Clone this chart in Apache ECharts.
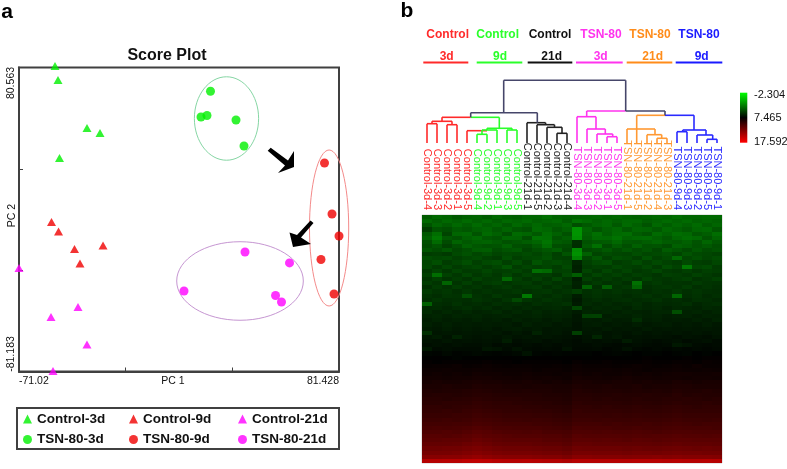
<!DOCTYPE html>
<html><head><meta charset="utf-8">
<style>html,body{margin:0;padding:0;background:#fff}#c{width:787px;height:469px}</style>
<script src="https://cdn.jsdelivr.net/npm/echarts@6/dist/echarts.min.js"></script>
</head><body><div id="c"></div>
<script>
// ---------- Panel a: PCA scores ----------
const control3d = [[-53.87,81.36],[-52.44,73.91],[-38.63,48.37],[-32.43,45.7],[-51.73,32.41]];
const control9d = [[-55.54,-1.64],[-52.2,-6.69],[-44.58,-15.97],[-31.0,-14.14],[-41.96,-23.71]];
const control21d = [[-71.02,-26.1],[-42.91,-46.86],[-55.78,-52.17],[-38.63,-66.8],[-54.82,-80.9]];
const tsn3d = [[20.21,67.9],[18.54,55.03],[15.68,54.23],[32.36,52.63],[36.17,38.8]];
const tsn9d = [[74.52,29.76],[78.09,2.62],[81.43,-9.08],[72.85,-21.6],[79.05,-39.94]];
const tsn21d = [[36.65,-17.6],[57.85,-23.4],[7.59,-38.34],[51.2,-40.74],[54.03,-44.2]];
// cx, cy, half-width, half-height (data units)
const clusterEllipses = [[27.83,53.43,15.3,22.2,'#86d6a4'],[76.71,-4.83,9.34,41.5,'#f48a8a'],[34.27,-33.03,30.16,20.9,'#c696d2']];
const pcX = [-71.02,81.428], pcY = [-81.183,80.563];
const xTicks = [-20.2,30.6];
const yTicks = [-27.27,26.65];
// ---------- Panel b: dendrogram segments [x1,h1,x2,h2] ----------
const navySegs = [[8.17,62.7,20.37,62.7],[8.17,62.7,8.17,30.3],[20.37,62.7,20.37,32],[4.87,30.3,11.53,30.3],[4.87,30.3,4.87,25.7],[11.53,30.3,11.53,20.3],[20.37,32,24.3,32],[24.3,32,24.3,27.7]];
const redSegs = [[2,25.7,4.87,25.7],[2,25.7,2,21.7],[1,21.7,3,21.7],[1,21.7,1,19.3],[3,21.7,3,18.3],[0.5,19.3,1.5,19.3],[0.5,0,0.5,19.3],[1.5,0,1.5,19.3],[2.5,18.3,3.5,18.3],[2.5,0,2.5,18.3],[3.5,0,3.5,18.3],[4.5,12.3,6.5,12.3],[4.5,0,4.5,12.3]];
const greenSegs = [[4.87,25.7,7.73,25.7],[7.73,25.7,7.73,14.7],[6.5,14.7,9,14.7],[6.5,14.7,6.5,13],[6,13,7.5,13],[9,14.7,9,13],[8.5,13,9.5,13],[8.5,0,8.5,13],[9.5,0,9.5,13],[7.5,0,7.5,13],[6,13,6,8.7],[5.5,8.7,6.5,8.7],[5.5,0,5.5,8.7],[6.5,0,6.5,8.7]];
const blackSegs = [[10.5,20.3,12.36,20.3],[10.5,0,10.5,20.3],[12.36,20.3,12.36,18.3],[11.5,18.3,13.25,18.3],[11.5,0,11.5,18.3],[13.25,18.3,13.25,15.7],[12.5,15.7,14,15.7],[12.5,0,12.5,15.7],[14,15.7,14,9.7],[13.5,9.7,14.5,9.7],[13.5,0,13.5,9.7],[14.5,0,14.5,9.7]];
const magentaSegs = [[16.47,32,20.37,32],[16.47,32,16.47,26.3],[15.5,26.3,17.4,26.3],[15.5,0,15.5,26.3],[17.4,26.3,17.4,14],[16.5,14,18.33,14],[16.5,0,16.5,14],[18.33,14,18.33,9],[17.5,9,19.07,9],[17.5,0,17.5,9],[19.07,9,19.07,6.3],[18.5,6.3,19.5,6.3],[18.5,0,18.5,6.3],[19.5,0,19.5,6.3]];
const orangeSegs = [[21.47,27.7,24.3,27.7],[21.47,27.7,21.47,0],[20.5,14,23.3,14],[20.5,0,20.5,14],[23.3,14,23.3,8.3],[22.5,8.3,23.97,8.3],[22.5,0,22.5,8.3],[23.97,8.3,23.97,4.7],[23.5,4.7,24.5,4.7],[23.5,0,23.5,4.7],[24.5,0,24.5,4.7]];
const blueSegs = [[24.3,27.7,27.2,27.7],[27.2,27.7,27.2,13],[26.07,13,28.4,13],[26.07,13,26.07,11.3],[25.5,11.3,26.5,11.3],[25.5,0,25.5,11.3],[26.5,0,26.5,11.3],[28.4,13,28.4,8],[27.5,8,29.07,8],[27.5,0,27.5,8],[29.07,8,29.07,3.7],[28.5,3.7,29.5,3.7],[28.5,0,28.5,3.7],[29.5,0,29.5,3.7]];
// ---------- Panel b: heatmap ----------
const samples = ['Control-3d-4','Control-3d-3','Control-3d-2','Control-3d-1','Control-3d-5','Control-9d-4','Control-9d-2','Control-9d-1','Control-9d-3','Control-9d-5','Control-21d-1','Control-21d-5','Control-21d-2','Control-21d-3','Control-21d-4','TSN-80-3d-4','TSN-80-3d-3','TSN-80-3d-2','TSN-80-3d-1','TSN-80-3d-5','TSN-80-21d-1','TSN-80-21d-5','TSN-80-21d-2','TSN-80-21d-4','TSN-80-21d-3','TSN-80-9d-4','TSN-80-9d-3','TSN-80-9d-2','TSN-80-9d-5','TSN-80-9d-1'];
const sampleColors = ['#ff2a2a','#ff2a2a','#ff2a2a','#ff2a2a','#ff2a2a','#2aff2a','#2aff2a','#2aff2a','#2aff2a','#2aff2a','#222222','#222222','#222222','#222222','#222222','#ff33ee','#ff33ee','#ff33ee','#ff33ee','#ff33ee','#ff9933','#ff9933','#ff9933','#ff9933','#ff9933','#2a2aff','#2a2aff','#2a2aff','#2a2aff','#2a2aff'];
const heatRows = [
[4.1,3.6,3.8,4.2,3.9,3.8,4.1,3.6,3.9,4.0,3.7,3.7,3.3,3.8,3.9,3.8,3.7,3.6,3.8,3.6,3.8,3.9,3.8,3.6,3.7,3.4,3.7,3.7,3.6,3.6],
[3.6,4.0,3.6,3.9,3.5,3.9,3.6,4.0,3.6,3.8,3.5,3.9,3.7,3.5,4.1,3.2,3.5,3.9,3.6,3.9,3.6,3.6,4.0,3.8,3.5,3.8,3.5,3.9,3.7,3.9],
[4.4,3.7,4.1,3.6,4.0,3.5,4.0,3.7,4.2,3.6,4.0,3.6,4.0,3.9,3.6,4.6,4.2,3.8,3.6,4.2,3.5,3.9,4.4,3.6,4.0,3.6,3.9,3.5,4.1,3.7],
[5.3,4.4,4.6,4.1,4.3,3.9,3.7,4.2,3.8,4.3,4.5,3.5,3.7,4.3,3.9,1.9,3.7,4.4,3.9,3.6,4.2,3.7,3.8,4.2,3.6,3.9,4.2,3.7,3.6,4.3],
[4.2,3.4,5.0,3.7,3.6,4.4,3.5,3.9,4.6,3.5,3.7,4.2,3.4,3.9,4.5,1.9,3.9,3.3,4.0,3.5,3.4,4.1,4.4,3.5,3.9,3.4,3.6,4.3,4.0,3.4],
[3.9,3.0,4.2,4.5,3.9,3.6,4.2,4.4,3.7,3.8,4.6,3.2,3.3,4.4,4.0,2.1,4.1,3.5,3.6,3.2,3.8,3.6,3.5,3.9,4.3,3.7,3.4,3.6,4.4,3.8],
[4.6,3.5,4.7,3.8,4.2,3.9,3.8,4.1,4.5,4.3,4.0,3.7,3.1,4.1,4.3,5.8,4.5,4.2,4.1,3.6,4.2,4.3,4.0,3.7,4.1,4.2,3.9,4.4,3.7,4.3],
[4.8,4.4,5.1,4.6,3.9,4.3,4.5,4.4,3.9,4.6,4.7,4.2,3.4,4.6,4.7,5.9,4.2,3.3,4.7,4.1,4.6,3.9,4.5,4.4,4.7,3.9,4.1,4.5,4.2,4.6],
[4.4,4.7,4.3,4.9,4.6,4.1,4.0,4.7,4.4,4.2,5.0,4.6,4.3,4.0,4.9,2.2,4.8,4.6,4.2,4.7,4.3,4.7,4.4,4.9,4.1,4.4,4.8,4.3,4.7,4.5],
[5.3,5.2,5.4,4.8,4.5,4.9,4.6,5.0,4.8,4.9,4.7,5.0,4.6,5.2,4.4,2.0,3.9,5.0,4.7,4.9,5.0,4.6,4.9,4.8,4.6,5.0,4.4,4.8,4.9,5.1],
[4.7,4.9,4.8,5.2,4.9,4.7,5.1,5.3,4.6,5.2,4.9,4.8,4.5,5.1,5.2,2.6,4.9,4.3,5.1,4.6,4.8,5.2,4.5,5.1,4.8,3.6,4.9,4.6,5.0,4.7],
[5.0,4.6,5.3,5.0,4.6,5.2,4.8,4.6,5.2,4.7,5.3,4.4,4.9,4.7,5.0,6.2,5.2,4.8,4.6,5.3,5.1,4.7,5.2,4.8,5.1,5.3,4.8,5.2,5.3,4.9],
[4.9,5.4,4.9,5.4,5.1,4.9,5.3,5.0,4.4,5.3,5.0,5.2,5.0,5.3,4.8,6.4,5.4,5.2,5.3,4.9,5.2,5.3,4.9,5.4,4.7,5.1,3.0,5.0,4.8,5.4],
[5.5,5.0,5.5,5.0,5.4,5.3,4.9,5.3,5.2,5.0,5.4,3.3,3.6,5.2,5.1,6.3,5.0,5.5,4.9,5.4,5.0,5.5,5.3,4.9,5.4,5.5,5.2,5.5,5.2,5.3],
[5.2,3.4,5.1,5.5,5.0,5.5,5.2,5.5,5.0,5.5,5.1,5.4,5.3,5.6,4.9,4.0,5.5,5.0,5.4,5.1,5.5,5.2,5.4,5.6,5.2,5.3,5.5,5.1,5.4,5.6],
[5.6,5.2,5.6,5.3,5.6,5.1,5.5,5.4,3.6,5.2,5.6,5.2,5.6,5.0,5.6,6.5,5.2,5.6,5.3,5.6,5.3,5.6,5.1,5.5,5.6,5.4,5.2,5.7,5.5,5.2],
[5.3,5.6,3.8,5.6,5.2,5.7,5.4,5.2,5.6,5.4,5.3,5.7,5.4,5.7,5.5,6.3,5.7,5.4,5.7,5.5,5.8,3.3,5.6,5.4,5.7,5.6,5.7,5.4,5.6,5.7],
[5.8,5.4,5.7,5.3,5.7,5.5,5.8,5.6,5.4,5.7,5.5,5.4,5.8,5.5,5.8,6.4,3.9,5.8,4.0,5.7,5.5,3.8,5.8,5.6,5.5,5.7,5.4,5.8,5.6,5.8],
[5.4,5.7,5.5,5.8,5.5,5.8,5.6,5.8,5.7,5.5,5.8,5.6,5.5,5.8,5.6,5.2,5.8,5.6,5.8,5.6,5.8,5.7,5.9,5.7,5.8,5.5,5.8,5.6,5.8,5.9],
[5.7,5.9,5.6,5.7,4.6,5.7,5.9,5.5,5.8,5.9,3.0,5.7,5.9,5.6,5.9,6.5,5.9,5.7,5.9,5.8,6.0,5.8,5.6,5.9,5.7,3.7,5.9,5.7,6.0,5.8],
[5.9,5.6,5.9,5.8,5.9,5.6,5.8,6.0,5.6,4.8,5.6,5.9,5.6,5.8,6.0,6.7,6.1,5.9,6.1,5.9,5.8,6.0,5.9,5.7,6.0,5.9,6.1,5.8,5.9,6.1],
[3.9,5.9,6.0,5.7,6.0,5.9,6.1,5.8,6.0,5.9,6.1,5.8,6.0,5.9,5.7,6.6,6.0,6.2,6.0,6.2,6.1,5.9,6.2,6.0,6.1,6.0,5.8,6.2,6.0,5.9],
[6.1,6.0,6.2,6.0,5.8,6.1,5.9,6.2,6.0,6.2,6.0,6.2,6.1,6.0,6.2,4.9,6.3,6.1,6.2,6.1,6.3,6.0,6.2,6.1,6.3,6.1,6.2,6.3,6.1,6.2],
[6.0,6.3,6.1,6.3,6.1,6.3,6.2,6.0,6.3,6.1,6.3,6.1,6.3,6.2,6.3,6.6,6.2,6.3,6.2,6.4,6.2,6.3,6.4,6.2,6.2,4.6,6.3,6.2,6.4,6.2],
[6.3,6.2,6.4,6.2,6.3,6.2,6.4,6.3,6.2,6.4,6.3,6.2,6.4,6.3,6.4,6.8,5.2,5.1,6.5,6.3,6.4,6.2,6.4,6.3,6.5,6.4,6.3,6.5,6.3,6.4],
[6.5,6.3,6.5,6.4,6.5,6.3,6.5,6.4,6.6,6.3,6.5,6.4,6.6,6.4,6.6,6.8,6.5,6.6,6.4,6.6,6.5,5.9,6.5,6.4,6.6,6.5,6.6,6.4,6.6,6.3],
[6.4,6.6,6.4,6.6,6.5,6.6,6.5,6.6,6.5,6.7,6.4,6.6,6.5,6.7,6.6,6.9,6.6,6.5,6.7,6.6,6.7,6.5,6.7,6.6,6.5,6.7,6.6,6.7,6.5,6.7],
[6.6,6.7,6.5,6.7,6.6,6.7,6.6,6.8,6.6,6.5,6.7,6.6,6.8,6.7,6.8,6.9,6.7,6.8,6.6,6.8,6.7,6.8,6.6,6.8,6.7,6.8,6.7,6.8,6.7,6.8],
[5.8,6.8,6.7,6.8,6.7,6.8,6.8,6.7,6.9,6.7,6.9,6.3,6.8,6.7,6.9,5.2,6.8,6.7,6.9,6.8,6.9,6.7,6.9,6.8,6.9,6.8,6.9,6.8,6.9,6.8],
[6.8,6.6,6.9,6.3,6.8,6.9,6.8,6.9,6.7,6.9,6.8,6.9,6.8,6.9,7.0,7.1,6.9,6.2,6.9,6.7,7.0,6.9,7.0,6.9,7.0,7.1,6.9,7.0,7.1,6.9],
[6.9,7.0,6.8,7.0,6.9,7.0,6.9,7.0,6.5,7.1,7.0,6.9,7.1,7.0,7.1,7.2,7.0,7.1,7.0,7.1,6.6,7.0,7.1,7.2,7.1,7.0,7.2,7.1,7.0,7.2],
[7.1,7.0,7.1,7.0,7.1,7.1,7.0,7.2,7.1,7.2,7.1,7.2,7.1,7.2,7.1,7.2,7.2,7.1,7.2,7.3,7.2,7.1,7.2,7.3,7.2,6.7,6.9,7.2,7.3,7.2],
[6.7,7.2,7.1,7.2,7.2,7.2,6.8,6.9,7.2,6.9,7.2,7.3,7.2,7.3,6.9,7.3,7.3,7.2,7.4,7.3,7.0,7.3,7.4,7.3,7.4,7.3,7.4,7.3,7.4,7.3],
[7.4,7.5,7.3,7.5,7.4,7.3,7.4,7.5,7.4,7.3,6.9,7.4,7.5,7.4,7.5,7.5,7.5,7.6,7.5,7.4,7.5,7.6,7.5,7.5,7.6,7.5,7.4,7.6,7.5,7.6],
[7.6,7.7,7.6,7.5,7.6,7.7,7.6,7.6,7.7,7.6,7.6,7.7,7.7,7.6,7.7,7.7,7.6,7.7,7.7,7.7,7.6,7.7,7.8,7.7,7.7,7.7,7.8,7.7,7.8,7.8],
[7.8,7.7,7.8,7.8,7.8,7.8,7.9,7.8,7.8,7.7,7.8,7.8,7.8,7.8,7.7,7.9,7.8,7.8,7.9,7.8,7.8,7.8,7.9,7.8,7.8,7.9,7.9,7.8,8.0,7.9],
[7.9,8.0,8.0,8.1,7.9,8.0,8.1,8.0,7.9,8.0,8.0,7.9,7.9,8.0,7.9,8.1,8.0,8.0,8.0,7.9,8.0,8.1,8.0,7.9,8.0,8.1,8.0,8.2,8.0,8.0],
[8.1,8.1,8.2,8.1,8.1,8.2,8.2,8.1,8.1,8.1,8.1,8.0,8.1,8.1,8.0,8.2,8.1,8.1,8.2,8.1,8.2,8.1,8.0,8.1,8.1,8.2,8.1,8.1,8.2,8.1],
[8.2,8.3,8.2,8.3,8.2,8.4,8.3,8.3,8.2,8.2,8.3,8.2,8.2,8.1,8.2,8.3,8.2,8.3,8.2,8.2,8.3,8.2,8.3,8.2,8.3,8.4,8.4,8.3,8.3,8.4],
[8.4,8.4,8.3,8.4,8.4,8.5,8.5,8.4,8.4,8.3,8.4,8.3,8.4,8.3,8.2,8.5,8.4,8.4,8.3,8.4,8.5,8.4,8.4,8.3,8.4,8.4,8.3,8.4,8.4,8.3],
[8.5,8.6,8.5,8.5,8.6,8.7,8.6,8.6,8.5,8.5,8.6,8.5,8.4,8.5,8.4,8.6,8.6,8.5,8.5,8.6,8.6,8.5,8.6,8.5,8.5,8.7,8.6,8.5,8.6,8.6],
[8.7,8.7,8.8,8.7,8.7,8.9,8.8,8.8,8.7,8.7,8.6,8.7,8.7,8.6,8.6,8.8,8.7,8.7,8.8,8.7,8.7,8.8,8.6,8.7,8.7,8.8,8.8,8.7,8.7,8.7],
[8.9,8.8,8.9,8.9,9.0,9.1,9.0,8.9,8.9,8.8,8.9,8.8,8.8,8.7,8.7,9.0,8.9,8.8,8.9,8.9,8.8,8.9,8.8,8.9,8.8,9.0,8.9,8.9,9.0,8.9],
[9.0,9.1,9.1,9.0,9.1,9.2,9.2,9.1,9.0,9.0,9.0,9.0,8.9,8.9,8.8,9.1,9.1,9.0,9.0,9.1,9.0,9.0,9.1,9.0,9.0,9.2,9.0,9.1,9.0,9.0],
[9.2,9.2,9.1,9.2,9.3,9.4,9.3,9.2,9.2,9.2,9.1,9.1,9.0,9.0,8.9,9.2,9.2,9.1,9.2,9.1,9.1,9.2,9.1,9.1,9.2,9.2,9.3,9.2,9.1,9.2],
[9.3,9.3,9.4,9.4,9.4,9.6,9.5,9.4,9.4,9.3,9.3,9.2,9.2,9.1,9.0,9.4,9.3,9.3,9.3,9.3,9.2,9.3,9.3,9.2,9.3,9.4,9.3,9.3,9.4,9.3],
[9.5,9.5,9.4,9.5,9.6,9.7,9.6,9.5,9.5,9.5,9.4,9.4,9.3,9.3,9.2,9.5,9.5,9.4,9.5,9.4,9.4,9.5,9.4,9.4,9.5,9.6,9.5,9.4,9.5,9.5],
[9.6,9.6,9.7,9.6,9.8,9.9,9.8,9.7,9.6,9.6,9.6,9.5,9.5,9.4,9.3,9.7,9.6,9.6,9.6,9.6,9.5,9.6,9.6,9.5,9.6,9.7,9.6,9.6,9.6,9.6],
[9.8,9.8,9.8,9.9,9.9,10.1,10.0,9.9,9.8,9.8,9.8,9.7,9.7,9.6,9.5,9.8,9.8,9.8,9.7,9.8,9.7,9.8,9.7,9.7,9.8,9.9,9.8,9.8,9.8,9.8],
[10.0,10.0,10.1,10.0,10.1,10.3,10.2,10.1,10.0,10.0,9.9,10.0,9.9,9.8,9.7,10.0,10.0,9.9,10.0,9.9,9.9,10.0,9.9,9.9,10.0,10.1,10.0,10.0,9.9,10.0],
[10.2,10.2,10.2,10.3,10.3,10.5,10.4,10.3,10.2,10.2,10.2,10.1,10.1,10.0,9.9,10.2,10.2,10.2,10.1,10.2,10.1,10.1,10.2,10.1,10.2,10.3,10.2,10.1,10.2,10.2],
[10.4,10.5,10.4,10.5,10.6,10.8,10.7,10.5,10.5,10.4,10.4,10.4,10.3,10.2,10.1,10.5,10.4,10.4,10.4,10.3,10.3,10.4,10.3,10.3,10.4,10.5,10.4,10.4,10.4,10.3],
[10.7,10.7,10.8,10.7,10.9,11.1,11.0,10.8,10.7,10.7,10.6,10.7,10.5,10.5,10.4,10.7,10.7,10.6,10.7,10.6,10.6,10.7,10.6,10.5,10.6,10.7,10.7,10.6,10.6,10.6],
[11.0,11.0,10.9,11.0,11.2,11.4,11.2,11.1,11.0,10.9,10.9,10.9,10.8,10.8,10.6,11.0,10.9,10.9,10.9,10.9,10.8,10.9,10.8,10.9,10.9,11.0,10.9,10.9,10.8,10.9],
[11.2,11.2,11.3,11.3,11.4,11.7,11.5,11.3,11.2,11.2,11.2,11.2,11.0,11.0,10.9,11.2,11.2,11.1,11.2,11.1,11.0,11.2,11.1,11.0,11.1,11.2,11.2,11.1,11.1,11.1],
[11.5,11.5,11.5,11.6,11.8,12.0,11.8,11.6,11.5,11.5,11.5,11.4,11.3,11.3,11.1,11.5,11.5,11.4,11.4,11.4,11.4,11.4,11.4,11.3,11.4,11.5,11.4,11.4,11.4,11.3],
[11.9,11.9,12.0,12.0,12.2,12.4,12.2,12.0,11.9,11.9,11.9,11.8,11.7,11.7,11.5,11.9,11.8,11.8,11.8,11.8,11.7,11.8,11.7,11.7,11.8,11.9,11.8,11.7,11.8,11.7],
[12.3,12.3,12.3,12.4,12.6,12.8,12.6,12.4,12.3,12.3,12.3,12.2,12.1,12.1,11.9,12.3,12.3,12.2,12.2,12.2,12.1,12.2,12.2,12.1,12.2,12.3,12.2,12.2,12.1,12.1],
[12.9,12.9,13.0,13.0,13.2,13.4,13.2,13.0,12.9,12.9,12.9,12.8,12.7,12.7,12.5,12.9,12.9,12.8,12.8,12.8,12.7,12.8,12.8,12.9,12.8,12.9,12.8,12.8,12.8,12.7],
[14.7,14.7,14.8,14.8,15.0,15.1,15.0,14.8,14.7,14.7,14.8,14.7,14.6,14.6,14.4,14.7,14.7,14.7,14.7,14.7,14.7,14.8,14.8,14.8,14.7,14.8,14.7,14.7,14.8,14.7]
];
const rowIds = heatRows.map((r,i)=>i);
const heatCells = [];
heatRows.forEach((r,y)=>r.forEach((v,x)=>heatCells.push([x,y,v])));
const scaleMin = -2.304, scaleMax = 17.592;
const scaleLabels = ['-2.304','7.465','17.592'];
const scaleColors = ['#00ff00','#000000','#ff0000'];
const groupNames = ['Control','Control','Control','TSN-80','TSN-80','TSN-80'];
const groupDays = ['3d','9d','21d','3d','21d','9d'];
const groupColors = ['#ff2a2a','#2aff2a','#111111','#ff33ee','#ff8c1a','#1a1aff'];
const groupNameX = [447.7,497.7,550,601,650,699];
const groupDayX = [446.7,500,551.7,600.7,652.7,701.7];
const groupLineX = [[423.3,468.3],[476.7,522.3],[527.7,572.3],[576,622.7],[626.7,672.3],[675.7,722.3]];

const F = '"Liberation Sans", Arial, sans-serif';
const segSeries = (segs,color)=>({type:'custom',xAxisIndex:1,yAxisIndex:1,coordinateSystem:'cartesian2d',clip:false,silent:true,
  data:segs,encode:{x:[0,2],y:[1,3]},
  renderItem:(p,api)=>{const a=api.coord([api.value(0),api.value(1)]),b=api.coord([api.value(2),api.value(3)]);
    return {type:'line',shape:{x1:a[0],y1:a[1],x2:b[0],y2:b[1]},style:{stroke:color,lineWidth:1.6}};}});
const scatter = (name,data,color,sym)=>({name,type:'scatter',data,xAxisIndex:0,yAxisIndex:0,symbol:sym,symbolSize:sym==='circle'?9:[9,8],clip:false,z:5,itemStyle:{color}});
const T = (text,x,y,o={})=>({type:'text',x,y,rotation:o.rot||0,z:20,style:{text,fill:o.color||'#111',font:(o.w||'normal')+' '+(o.s||10.5)+'px '+F,align:o.align||'center',verticalAlign:'middle'}});

const graphic = [
  T('a',7,12,{w:'bold',s:21,color:'#000'}), T('b',407,11,{w:'bold',s:21,color:'#000'}),
  T(String(pcY[1]),11,83,{rot:Math.PI/2}), T(String(pcY[0]),11,354,{rot:Math.PI/2}),
  {type:'rect',z:1,shape:{x:17,y:408,width:322,height:41},style:{fill:'none',stroke:'#404040',lineWidth:2}},
  {type:'polygon',z:20,shape:{points:[[267.7,150.7],[270.7,147.7],[288,160.5],[294,151],[294,167],[278,173],[285,165.5]]},style:{fill:'#000'}},
  {type:'polygon',z:20,shape:{points:[[310.5,220.5],[313.5,223],[301,237.5],[311,244],[293,247],[289.5,232.5],[297,235]]},style:{fill:'#000'}},
  {type:'rect',z:20,shape:{x:740,y:92.7,width:7.3,height:50},style:{fill:new echarts.graphic.LinearGradient(0,0,0,1,[{offset:0,color:scaleColors[0]},{offset:0.5,color:scaleColors[1]},{offset:1,color:scaleColors[2]}])}},
  T(scaleLabels[0],754,94.5,{align:'left',s:11}),T(scaleLabels[1],754,117.5,{align:'left',s:11}),T(scaleLabels[2],754,142,{align:'left',s:11})
];
groupNames.forEach((n,i)=>{
  graphic.push(T(n,groupNameX[i],35,{w:'bold',s:12,color:groupColors[i]}));
  graphic.push(T(groupDays[i],groupDayX[i],57,{w:'bold',s:12,color:groupColors[i]}));
  graphic.push({type:'line',z:20,shape:{x1:groupLineX[i][0],y1:62.5,x2:groupLineX[i][1],y2:62.5},style:{stroke:groupColors[i],lineWidth:1.8}});
});
const legendBase = {orient:'vertical',top:407,itemWidth:9,itemHeight:9,itemGap:6.5,selectedMode:false,textStyle:{fontFamily:F,fontWeight:'bold',fontSize:13.5,color:'#111'}};

const option = {
  animation:false,backgroundColor:'#fff',
  title:{text:'Score Plot',left:162,top:43,textAlign:'center',textStyle:{fontFamily:F,fontWeight:'bold',fontSize:16,color:'#111'}},
  textStyle:{fontFamily:F},
  legend:[
    {...legendBase,left:18,data:['Control-3d','TSN-80-3d']},
    {...legendBase,left:124,data:['Control-9d','TSN-80-9d']},
    {...legendBase,left:233,data:['Control-21d','TSN-80-21d']}
  ],
  grid:[
    {left:19,top:67.5,width:320,height:304,show:true,borderColor:'#404040',borderWidth:2,backgroundColor:'#fff',outerBoundsMode:'none'},
    {left:422,top:80.3,width:300,height:62.7,outerBoundsMode:'none'},
    {left:422,top:215,width:300,height:248,show:true,borderColor:'#cfcfcf',borderWidth:1,outerBoundsMode:'none'}
  ],
  xAxis:[
    {type:'value',gridIndex:0,min:pcX[0],max:pcX[1],splitLine:{show:false},
     axisLine:{show:true,onZero:false,lineStyle:{color:'#404040',width:2}},
     axisTick:{show:true,inside:true,length:4,customValues:xTicks,lineStyle:{color:'#404040'}},
     axisLabel:{customValues:pcX,alignMinLabel:'left',alignMaxLabel:'right',margin:4,color:'#111',fontFamily:F,fontSize:10.5},
     name:'PC 1',nameLocation:'middle',nameGap:4,nameMoveOverlap:false,nameTextStyle:{color:'#111',fontFamily:F,fontSize:10.5,padding:[0,12,0,0]}},
    {type:'value',gridIndex:1,min:0,max:30,show:false},
    {type:'category',gridIndex:2,data:samples,position:'top',axisLine:{show:false},axisTick:{show:false},
     axisLabel:{interval:0,rotate:90,margin:5,fontFamily:F,fontSize:11,color:(v,i)=>sampleColors[i]}}
  ],
  yAxis:[
    {type:'value',gridIndex:0,min:pcY[0],max:pcY[1],splitLine:{show:false},
     axisLine:{show:true,onZero:false,lineStyle:{color:'#404040',width:2}},
     axisTick:{show:true,inside:true,length:4,customValues:yTicks,lineStyle:{color:'#404040'}},
     axisLabel:{show:false},
     name:'PC 2',nameLocation:'middle',nameGap:1,nameRotate:90,nameMoveOverlap:false,nameTextStyle:{color:'#111',fontFamily:F,fontSize:10.5,padding:[0,0,0,8]}},
    {type:'value',gridIndex:1,min:0,max:62.7,show:false},
    {type:'category',gridIndex:2,data:rowIds,inverse:true,show:false}
  ],
  visualMap:{type:'continuous',show:false,seriesIndex:[13],dimension:2,min:scaleMin,max:scaleMax,inRange:{color:scaleColors}},
  series:[
    {type:'custom',xAxisIndex:0,yAxisIndex:0,coordinateSystem:'cartesian2d',clip:false,silent:true,z:4,data:clusterEllipses.map(e=>e.slice(0,4)),encode:{x:0,y:1},
     renderItem:(p,api)=>{const c=api.coord([api.value(0),api.value(1)]),s=api.size([api.value(2),api.value(3)]);
       return {type:'ellipse',shape:{cx:c[0],cy:c[1],rx:s[0],ry:s[1]},style:{fill:'none',stroke:clusterEllipses[p.dataIndex][4],lineWidth:1}};}},
    scatter('Control-3d',control3d,'#00f000','triangle'),
    scatter('Control-9d',control9d,'#f00000','triangle'),
    scatter('Control-21d',control21d,'#ff00ff','triangle'),
    scatter('TSN-80-3d',tsn3d,'#00f000','circle'),
    scatter('TSN-80-9d',tsn9d,'#f00000','circle'),
    scatter('TSN-80-21d',tsn21d,'#ff00ff','circle'),
    segSeries(redSegs,'#ff2a2a'),segSeries(greenSegs,'#2aff2a'),segSeries(blackSegs,'#222222'),
    segSeries(magentaSegs,'#ff33ee'),segSeries(orangeSegs,'#ff9933'),segSeries(blueSegs,'#2a2aff'),
    // heatmap cells: overlap neighbours by one pixel so no seams show between rows
    {type:'custom',xAxisIndex:2,yAxisIndex:2,coordinateSystem:'cartesian2d',clip:true,silent:true,progressive:0,data:heatCells,encode:{x:0,y:1},
     renderItem:(p,api)=>{const c=api.coord([api.value(0),api.value(1)]),s=api.size([1,1]);
       return {type:'rect',shape:{x:Math.round(c[0]-s[0]/2),y:Math.round(c[1]-s[1]/2),width:Math.ceil(s[0])+1,height:Math.ceil(s[1])+1},style:{fill:api.visual('color')}};}},
    segSeries(navySegs,'#46466a')
  ],
  graphic
};
const chart = echarts.init(document.getElementById('c'),null,{renderer:'canvas'});
chart.setOption(option);
</script></body></html>
